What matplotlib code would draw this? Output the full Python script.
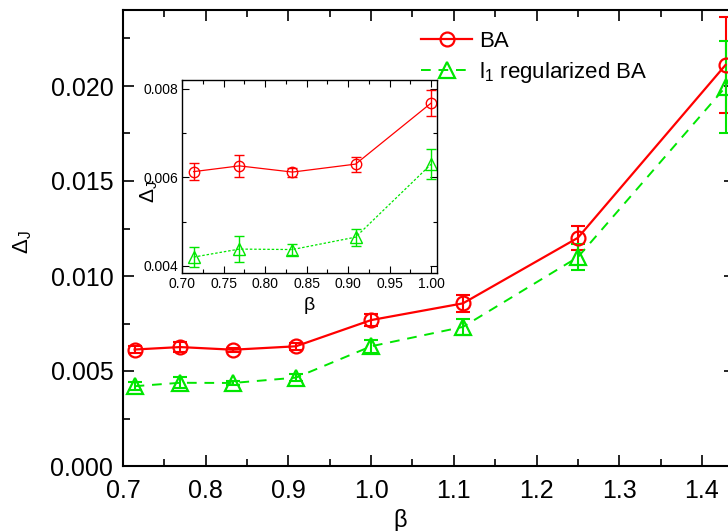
import matplotlib
matplotlib.use('Agg')
import matplotlib.pyplot as plt
from matplotlib.ticker import MultipleLocator
import numpy as np

plt.rcParams['font.family'] = ['Liberation Sans', 'DejaVu Sans']
plt.rcParams['mathtext.fontset'] = 'custom'
plt.rcParams['mathtext.rm'] = 'Liberation Sans'

# data
beta = [0.714, 0.769, 0.833, 0.909, 1.0, 1.111, 1.25, 1.4286]
ba = [0.00613, 0.00626, 0.00612, 0.0063, 0.00768, 0.00856, 0.01201, 0.02111]
ba_err = [0.0002, 0.00025, 0.0001, 0.00017, 0.0003, 0.00044, 0.00062, 0.00254]
l1 = [0.0042, 0.00438, 0.00437, 0.00465, 0.0063, 0.00732, 0.01099, 0.01995]
l1_err = [0.00022, 0.00029, 0.00013, 0.00019, 0.00033, 0.00041, 0.00069, 0.00243]
n_inset = 5  # inset shows the first five points

red = '#ff0000'
green = '#00e600'

fig = plt.figure(figsize=(7.28, 5.31), dpi=100)
ax = fig.add_axes([123/728, 1 - 466/531, 612/728, 456/531])

ax.errorbar(beta, ba, yerr=ba_err, fmt='none', ecolor=red, elinewidth=1.5, capsize=5, capthick=1.5)
ax.errorbar(beta, l1, yerr=l1_err, fmt='none', ecolor=green, elinewidth=1.5, capsize=5, capthick=1.5)
ln1, = ax.plot(beta, ba, '-o', color=red, lw=1.6, ms=10, mfc='none', mew=1.6, label='BA')
ln2, = ax.plot(beta, l1, '--^', color=green, lw=1.4, ms=11, mfc='none', mew=1.6,
               dashes=(5, 4), label=r'l$_\mathregular{1}$ regularized BA')

ax.set_xlim(0.7, 1.44)
ax.set_ylim(0, 0.024)
ax.xaxis.set_major_locator(MultipleLocator(0.1))
ax.xaxis.set_minor_locator(MultipleLocator(0.05))
ax.yaxis.set_major_locator(MultipleLocator(0.005))
ax.yaxis.set_minor_locator(MultipleLocator(0.0025))
ax.xaxis.set_major_formatter(plt.FormatStrFormatter('%.1f'))
ax.yaxis.set_major_formatter(plt.FormatStrFormatter('%.3f'))
ax.tick_params(which='both', direction='in', top=True, right=True, width=1.2)
ax.tick_params(which='major', length=8, labelsize=18)
ax.tick_params(which='minor', length=5)
ax.tick_params(axis='x', pad=9)
ax.tick_params(axis='y', pad=7)
for s in ax.spines.values():
    s.set_linewidth(1.5)
ax.set_xlabel('β', fontsize=17)
ax.xaxis.set_label_coords(0.453, -0.095)
ax.set_ylabel('Δ$_\\mathregular{J}$', fontsize=16)
ax.yaxis.set_label_coords(-0.145, 0.49)

ax.legend(handles=[ln1, ln2], loc='upper left', bbox_to_anchor=(410/728, 1 - 20/531),
          bbox_transform=fig.transFigure, frameon=False, fontsize=16,
          handlelength=2.3, handletextpad=0.3, labelspacing=0.35, borderpad=0)

# inset
ins = fig.add_axes([182/728, 1 - 273/531, 255/728, 193/531])
ins.errorbar(beta[:n_inset], ba[:n_inset], yerr=ba_err[:n_inset], fmt='none', ecolor=red,
             elinewidth=1.0, capsize=3.5, capthick=1.0)
ins.errorbar(beta[:n_inset], l1[:n_inset], yerr=l1_err[:n_inset], fmt='none', ecolor=green,
             elinewidth=1.0, capsize=3.5, capthick=1.0)
ins.plot(beta[:n_inset], ba[:n_inset], '-o', color=red, lw=0.9, ms=7.5, mfc='none', mew=1.0)
ins.plot(beta[:n_inset], l1[:n_inset], '^', color=green, ls=(0, (2, 1.5)), lw=0.9, ms=8,
         mfc='none', mew=1.0)
ins.set_xlim(0.70, 1.007)
ins.set_ylim(0.00384, 0.0082)
ins.xaxis.set_major_locator(MultipleLocator(0.05))
ins.xaxis.set_minor_locator(MultipleLocator(0.025))
ins.yaxis.set_major_locator(MultipleLocator(0.002))
ins.yaxis.set_minor_locator(MultipleLocator(0.001))
ins.xaxis.set_major_formatter(plt.FormatStrFormatter('%.2f'))
ins.yaxis.set_major_formatter(plt.FormatStrFormatter('%.3f'))
ins.tick_params(which='both', direction='in', top=True, right=True, width=0.8)
ins.tick_params(which='major', length=5, labelsize=10, pad=3)
ins.tick_params(which='minor', length=3)
for s in ins.spines.values():
    s.set_linewidth(1.0)
ins.set_xlabel('β', fontsize=14)
ins.set_ylabel('Δ$_\\mathregular{J}$', fontsize=15)
ins.yaxis.set_label_coords(-0.085, 0.42)

fig.savefig('out.png', dpi=100)
